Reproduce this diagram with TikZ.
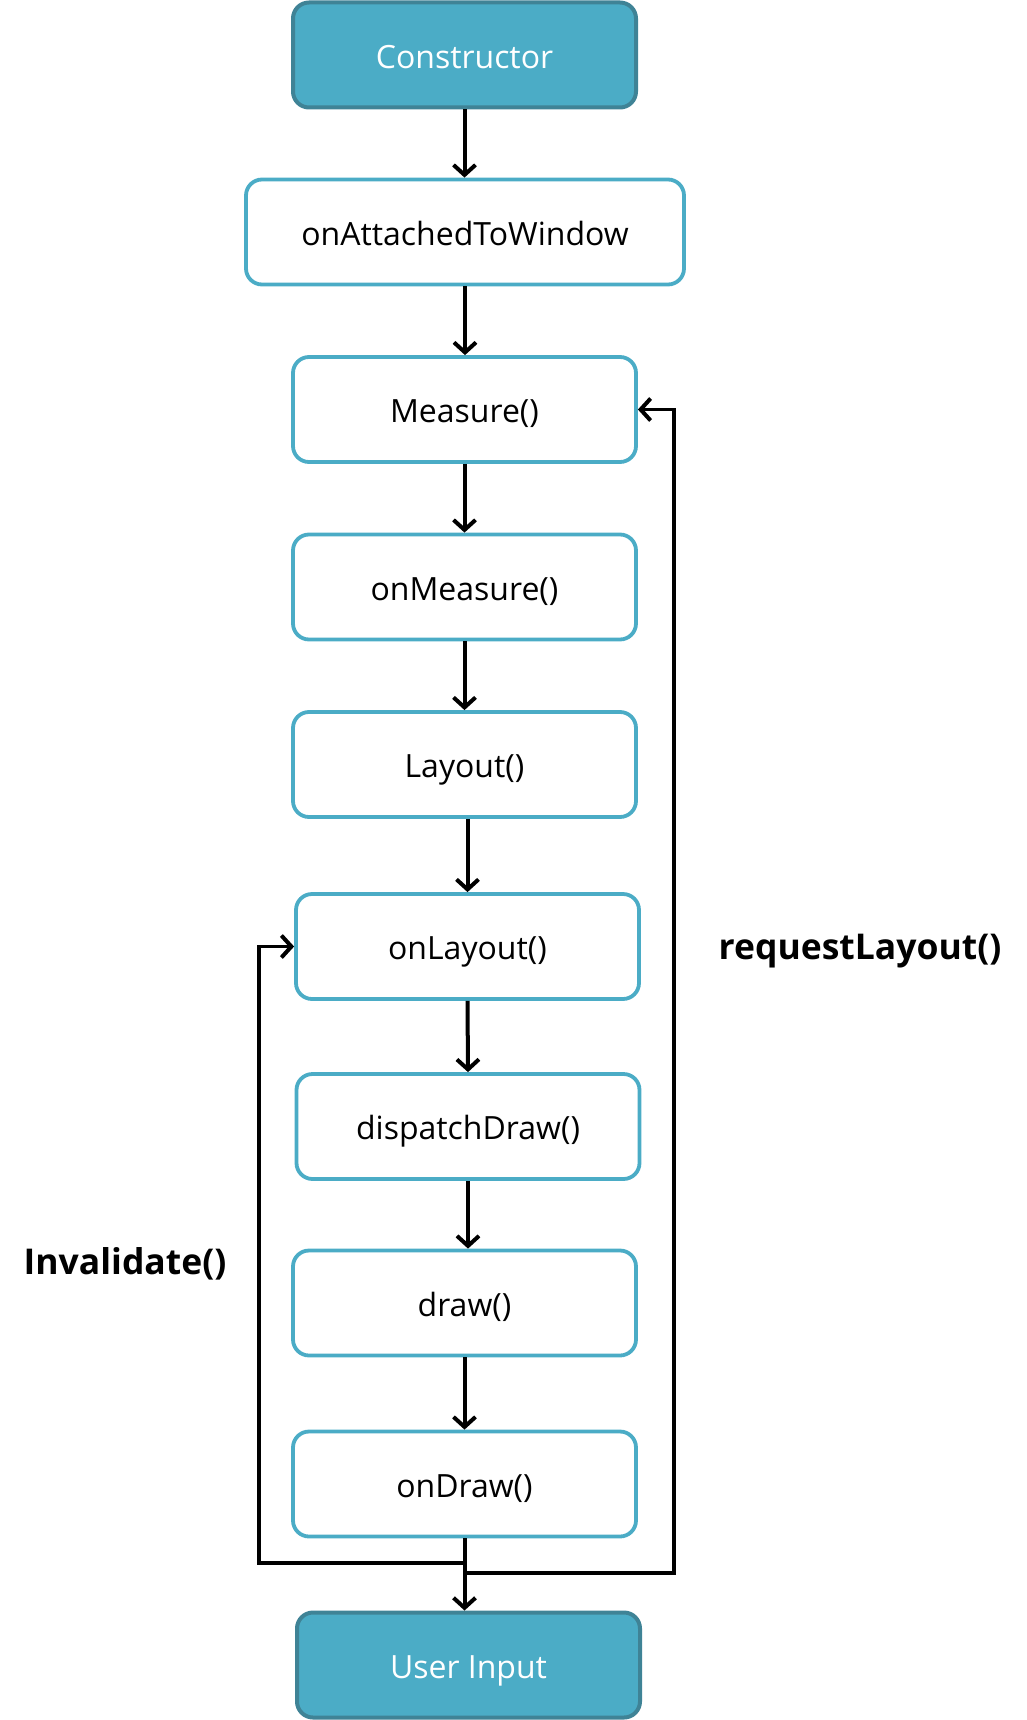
\documentclass[tikz,border=0pt]{standalone}
\usepackage{fontspec}
\setmainfont{Open Sans}
\usetikzlibrary{arrows.meta}
\definecolor{aqua}{HTML}{4BACC6}
\definecolor{aquadark}{HTML}{3F8396}
\tikzset{
  box/.style={draw=aqua, line width=3.8pt, rounded corners=16pt, fill=white,
    minimum width=343pt, minimum height=105pt, inner sep=0pt,
    text height=28pt, text depth=1.2pt,
    font=\fontsize{32}{38}\selectfont, text=black},
  endbox/.style={box, draw=aquadark, line width=4pt, fill=aqua, text=white},
  arr/.style={line width=4pt, -{Straight Barb[length=10pt,width=22pt,line width=4pt]}},
  lbl/.style={font=\fontsize{35.5}{40}\selectfont\bfseries, text=black, inner sep=0pt}
}
\begin{document}
\begin{tikzpicture}[x=1pt,y=-1pt]
\useasboundingbox (0,0) rectangle (1026,1720);
\node[endbox] (ctor) at (464.5,55) {Constructor};
\node[box, minimum width=438pt] (attach) at (465,232) {onAttachedToWindow};
\node[box] (measure) at (464.5,409.5) {Measure()};
\node[box] (onmeasure) at (464.5,587) {onMeasure()};
\node[box] (layout) at (464.5,764.5) {Layout()};
\node[box] (onlayout) at (467.5,946.5) {onLayout()};
\node[box] (dispatch) at (468,1126.5) {dispatchDraw()};
\node[box] (drawn) at (464.5,1303) {draw()};
\node[box] (ondraw) at (464.5,1484) {onDraw()};
\node[endbox] (user) at (468.5,1665) {User Input};
\node[lbl] (reqlbl) at (860,951) {requestLayout()};
\node[lbl] (invlbl) at (125,1264) {Invalidate()};
\coordinate (lx) at (259,1563);
\coordinate (rx) at (674,1573);
\draw[arr] (ctor.south) -- (ctor.south |- attach.north);
\draw[arr] (attach.south) -- (attach.south |- measure.north);
\draw[arr] (measure.south) -- (onmeasure.north);
\draw[arr] (onmeasure.south) -- (layout.north);
\draw[arr] (layout.south -| onlayout.north) -- (onlayout.north);
\draw[arr] (onlayout.south) -- (dispatch.north);
\draw[arr] (dispatch.south) -- (dispatch.south |- drawn.north);
\draw[arr] (drawn.south) -- (ondraw.north);
\draw[arr] (ondraw.south) -- (ondraw.south |- user.north);
\draw[arr, line width=3.5pt] (ondraw.south) |- (lx) |- (onlayout.west);
\draw[arr, line width=3.5pt] (ondraw.south) |- (rx) |- (measure.east);
\end{tikzpicture}
\end{document}
